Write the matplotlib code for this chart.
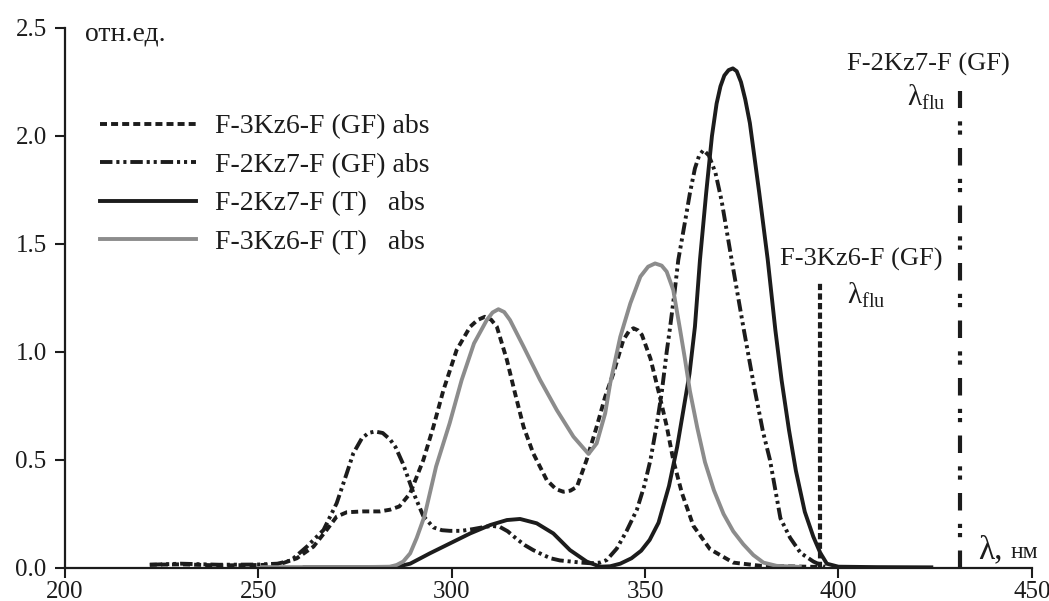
import matplotlib
matplotlib.use("Agg")
import matplotlib.pyplot as plt

plt.rcParams['font.family'] = ['Liberation Serif', 'DejaVu Serif']
plt.rcParams['mathtext.default'] = 'regular'

# F-3Kz6-F (GF) abs
gf3_x = [222, 230, 240, 251, 256, 260, 264.3, 267.7, 270.3, 272.9, 277.2, 281.5, 284.1, 286.5,
         289.3, 292.7, 295.3, 297.9, 301.3, 304.8, 306.7, 308.6, 310.2, 311.7, 314.3, 316.4,
         318.6, 321.1, 324.6, 327, 328.9, 330.7, 332.4, 334.9, 337.5, 339.7, 341.8, 344.4,
         345.8, 347.0, 348.2, 349.2, 351.4, 353.6, 355.6, 357.3, 359.5, 362.5, 366.8, 372.8, 380, 395]
gf3_y = [0.015, 0.017, 0.012, 0.014, 0.02, 0.045, 0.099, 0.176, 0.238, 0.258, 0.262, 0.262, 0.27, 0.285,
         0.346, 0.50, 0.654, 0.824, 1.009, 1.117, 1.148, 1.163, 1.15, 1.117, 0.963, 0.809,
         0.654, 0.531, 0.407, 0.365, 0.353, 0.358, 0.376, 0.50, 0.654, 0.793, 0.90, 1.056,
         1.095, 1.11, 1.10, 1.079, 0.97, 0.81, 0.657, 0.50, 0.349, 0.195, 0.087, 0.025, 0.01, 0.005]

# F-2Kz7-F (GF) abs
gf2_x = [222, 230, 240, 250, 255, 258.5, 262.6, 266.9, 270.3, 272.9, 274.6, 276.8, 278.5, 280.2,
         282.2, 284.1, 285.5, 287.5, 290.1, 292.7, 295.3, 297.5, 299.6, 302.5, 305.5, 308.5,
         310.5, 312.5, 314.5, 316.8, 319, 321.1, 323.5, 325.6, 328, 330.8, 333.5, 335.9,
         338.4, 340.1, 342.7, 345.2, 347.9, 349.8, 351.4, 353.0, 354.3, 355.6, 356.5, 357.7,
         358.6, 359.5, 360.6, 361.6, 362.9, 364, 365.1, 366.5, 368.2, 369.8, 372.4, 375.4,
         378.2, 380.5, 382.3, 385.0, 387.5, 390.2, 393.5, 396.5]
gf2_y = [0.015, 0.02, 0.015, 0.016, 0.02, 0.035, 0.099, 0.176, 0.30, 0.438, 0.531, 0.60, 0.625, 0.632,
         0.625, 0.595, 0.56, 0.48, 0.35, 0.24, 0.188, 0.175, 0.172, 0.172, 0.18, 0.19,
         0.195, 0.19, 0.17, 0.135, 0.105, 0.083, 0.062, 0.045, 0.035, 0.03, 0.025, 0.022,
         0.025, 0.037, 0.09, 0.17, 0.27, 0.38, 0.50, 0.66, 0.81, 1.0, 1.117, 1.287,
         1.426, 1.518, 1.63, 1.735, 1.85, 1.91, 1.935, 1.91, 1.83, 1.70, 1.426, 1.117,
         0.84, 0.63, 0.50, 0.23, 0.14, 0.07, 0.03, 0.005]

# F-2Kz7-F (T) abs
t2_x = [262, 280, 286, 289.3, 294.4, 299.6, 304.8, 310.0, 314.3, 317.7, 322.0, 326.3, 330.6,
        334.9, 338.4, 341, 343.6, 346.5, 349, 351.2, 353.5, 356.2, 358.3, 360, 361.5, 362.9,
        364.2, 365.8, 367.3, 368.5, 369.5, 370.5, 371.6, 372.7, 373.7, 374.8, 375.9, 377.1,
        379.5, 381.7, 383.7, 385.3, 387.2, 389.0, 391.3, 393.5, 395.3, 397.0, 400, 410, 424]
t2_y = [0.003, 0.003, 0.006, 0.02, 0.068, 0.114, 0.16, 0.199, 0.222, 0.227, 0.207, 0.16, 0.083,
        0.03, 0.006, 0.008, 0.02, 0.045, 0.08, 0.13, 0.21, 0.38, 0.56, 0.74, 0.9, 1.117,
        1.426, 1.735, 2.0, 2.15, 2.23, 2.28, 2.305, 2.313, 2.30, 2.25, 2.17, 2.06,
        1.74, 1.43, 1.10, 0.87, 0.64, 0.45, 0.26, 0.145, 0.07, 0.02, 0.006, 0.004, 0.003]

# F-3Kz6-F (T) abs
t3_x = [251, 260, 270, 280, 284.1, 285.8, 287.5, 289.3, 291, 293, 296, 299.5, 302.6, 305.8,
        309.1, 310.6, 312.1, 313.6, 315.1, 318.6, 322.9, 327.2, 331.5, 335.4, 337.5, 339.7,
        341.0, 343.6, 346.2, 348.8, 350.8, 352.6, 354.3, 355.6, 357.3, 359.0, 360.3, 361.6,
        363.5, 365.5, 367.8, 370.3, 372.8, 375.4, 378, 380.6, 384, 390]
t3_y = [0.004, 0.004, 0.004, 0.005, 0.006, 0.014, 0.03, 0.068, 0.14, 0.24, 0.47, 0.67, 0.87, 1.04,
        1.148, 1.183, 1.198, 1.185, 1.148, 1.025, 0.87, 0.731, 0.608, 0.528, 0.577, 0.716,
        0.855, 1.07, 1.225, 1.349, 1.395, 1.41, 1.40, 1.372, 1.287, 1.11, 0.97, 0.82,
        0.65, 0.49, 0.36, 0.25, 0.17, 0.11, 0.06, 0.025, 0.01, 0.005]

# fluorescence maxima (nm) and marker heights
flu_x = [395.1, 431.4]
flu_top = [1.32, 2.21]

labels = ["F-3Kz6-F (GF) abs", "F-2Kz7-F (GF) abs", "F-2Kz7-F (T)   abs", "F-3Kz6-F (T)   abs"]
xticks = [200, 250, 300, 350, 400, 450]
yticks = [0.0, 0.5, 1.0, 1.5, 2.0, 2.5]

black = '#1c1c1c'
grey = '#8c8c8c'
lw = 2.8

fig = plt.figure(figsize=(10.49, 6.01), dpi=100)
ax = fig.add_axes([64.7 / 1049, 33 / 601, (1031.9 - 64.7) / 1049, 540 / 601])

style = dict(lw=lw, solid_joinstyle='round', dash_joinstyle='round')
ax.plot(gf3_x, gf3_y, color=black, dashes=(1.8, 1.05), label=labels[0], **style)
ax.plot(gf2_x, gf2_y, color=black, dashes=(3.2, 1.0, 0.8, 1.0, 0.8, 1.0), label=labels[1], **style)
ax.plot(t2_x, t2_y, color=black, label=labels[2], **style)
ax.plot(t3_x, t3_y, color=grey, label=labels[3], **style)

# fluorescence markers
ax.plot([flu_x[0], flu_x[0]], [0, flu_top[0]], color=black, lw=3.0, dashes=(1.5, 0.8))
ax.plot([flu_x[1], flu_x[1]], [0, flu_top[1]], color=black, lw=3.0,
        dashes=(4.2, 3.2, 1.0, 1.2, 1.0, 3.2))

ax.set_xlim(200, 450)
ax.set_ylim(0, 2.5)
ax.set_xticks(xticks)
ax.set_yticks(yticks)
ax.set_yticklabels([f"{v:.1f}" for v in yticks])
for s in ['top', 'right']:
    ax.spines[s].set_visible(False)
for s in ['left', 'bottom']:
    ax.spines[s].set_linewidth(1.6)
    ax.spines[s].set_color(black)
ax.tick_params(axis='both', direction='out', length=7, width=1.5, colors=black, labelsize=18)
ax.tick_params(axis='y', pad=6)
ax.tick_params(axis='x', pad=2)

tfs = 19
ax.text(205.2, 2.47, "отн.ед.", fontsize=20, ha='left', va='center', color=black)
ax.text(423.2, 2.333, "F-2Kz7-F (GF)", fontsize=tfs, ha='center', va='center', color=black)
ax.text(427.6, 2.18, r"$\lambda_{flu}$", fontsize=21, ha='right', va='center', color=black)
ax.text(405.8, 1.43, "F-3Kz6-F (GF)", fontsize=tfs, ha='center', va='center', color=black)
ax.text(402.2, 1.264, r"$\lambda_{flu}$", fontsize=21, ha='left', va='center', color=black)
ax.text(436.1, 0.046, "λ,", fontsize=24, ha='left', va='baseline', color=black)
ax.text(444.4, 0.046, "нм", fontsize=17, ha='left', va='baseline', color=black)

ax.legend(loc='upper left', bbox_to_anchor=(100 / 1049, (601 - 114) / 601),
          bbox_transform=fig.transFigure, frameon=False, fontsize=20,
          borderpad=0, borderaxespad=0, handlelength=3.45, handletextpad=0.68,
          labelspacing=0.47, labelcolor=black)

fig.savefig("out.png", dpi=100)
